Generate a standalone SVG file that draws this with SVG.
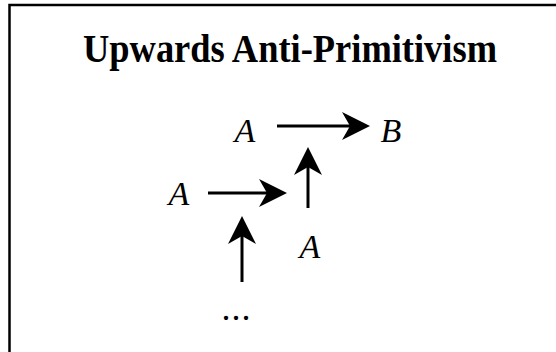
<svg xmlns="http://www.w3.org/2000/svg" width="556" height="352" viewBox="0 0 556 352">
  <style>
    .title { font-family: "Liberation Serif", "DejaVu Serif", serif; font-weight: bold; font-size: 41px; fill: #000; }
    .var { font-family: "Liberation Serif", "DejaVu Serif", serif; font-style: italic; font-size: 34px; fill: #000; }
    .dots { font-family: "Liberation Serif", "DejaVu Serif", serif; font-size: 36px; fill: #000; }
    .edge { stroke: #000; stroke-width: 3; fill: none; marker-end: url(#head); }
  </style>
  <defs>
    <marker id="head" markerUnits="userSpaceOnUse" markerWidth="30" markerHeight="30" refX="8" refY="14" orient="auto" viewBox="0 0 30 30">
      <path d="M0,0 L28,14 L0,28 L8,14 Z" fill="#000"/>
    </marker>
  </defs>
  <rect x="0" y="0" width="556" height="352" fill="#fff"/>
  <path d="M9.5,352 L9.5,5 L556,5" fill="none" stroke="#000" stroke-width="2.5"/>
  <text class="title" x="290" y="62" text-anchor="middle" textLength="414" lengthAdjust="spacingAndGlyphs">Upwards Anti-Primitivism</text>
  <g id="A1"><text class="var" x="245" y="142" text-anchor="middle">A</text></g>
  <g id="B"><text class="var" x="391" y="142" text-anchor="middle">B</text></g>
  <g id="A2"><text class="var" x="179" y="205" text-anchor="middle">A</text></g>
  <g id="A3"><text class="var" x="310" y="258" text-anchor="middle">A</text></g>
  <g id="dots"><text class="dots" x="221.5" y="320" letter-spacing="1">...</text></g>
  <g id="connectors">
    <line class="edge" x1="277" y1="126" x2="350" y2="126"/>
    <line class="edge" x1="208" y1="193" x2="267" y2="193"/>
    <line class="edge" x1="308" y1="208" x2="308" y2="167"/>
    <line class="edge" x1="242" y1="282" x2="242" y2="236"/>
  </g>
</svg>
